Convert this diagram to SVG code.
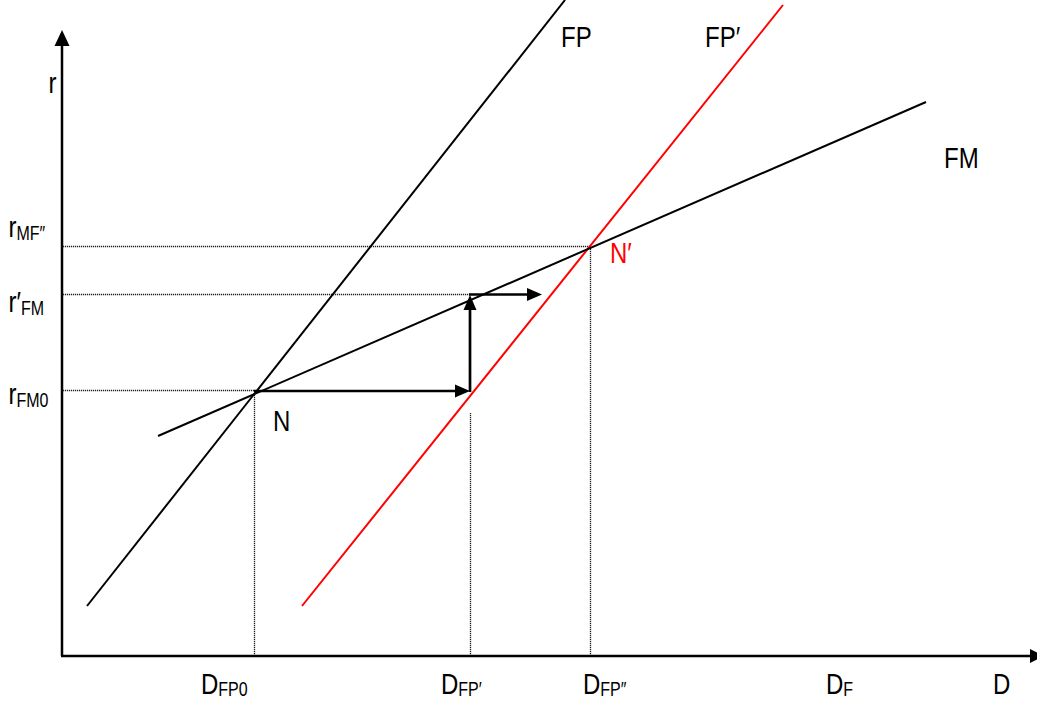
<svg xmlns="http://www.w3.org/2000/svg" width="1037" height="701" viewBox="0 0 1037 701">
<defs>
<style>
.t{font-family:"Liberation Sans",Arial,sans-serif;font-size:30px;fill:#000}
.s{font-size:20px}
.red{fill:#ff0000}
.ax{stroke:#000;stroke-width:2.5;fill:none}
.ln{stroke:#000;stroke-width:2;fill:none}
.rl{stroke:#ff0000;stroke-width:2;fill:none}
.dt{stroke:#222;stroke-width:1.3;stroke-dasharray:1.2,0.8;fill:none}
.th{stroke:#000;stroke-width:2.7;fill:none}
</style>
</defs>
<rect width="1037" height="701" fill="#fff"/>
<g id="axes">
<line class="ax" x1="62" y1="656" x2="62" y2="44"/>
<polygon points="62,30 54.5,46 69.5,46" fill="#000"/>
<line class="ax" x1="61" y1="656" x2="1032" y2="656"/>
<polygon points="1044,656 1030,649 1030,663" fill="#000"/>
</g>
<g id="guides">
<line class="dt" x1="63" y1="246.5" x2="590" y2="246.5"/>
<line class="dt" x1="63" y1="294.5" x2="470" y2="294.5"/>
<line class="dt" x1="63" y1="390.5" x2="254" y2="390.5"/>
<line class="dt" x1="254.5" y1="391" x2="254.5" y2="655"/>
<line class="dt" x1="470.5" y1="413" x2="470.5" y2="655"/>
<line class="dt" x1="590.5" y1="247" x2="590.5" y2="655"/>
</g>
<g id="curves">
<line id="FP" class="ln" x1="87" y1="606" x2="565" y2="0"/>
<line id="FPprime" class="rl" x1="302" y1="606" x2="783" y2="5"/>
<line id="FM" class="ln" x1="158" y1="436" x2="926" y2="102"/>
</g>
<g id="connectors">
<line class="th" x1="254" y1="391" x2="456" y2="391"/>
<polygon points="470,391 455,384.5 455,397.5" fill="#000"/>
<line class="th" x1="470" y1="392" x2="470" y2="309"/>
<polygon points="470,295 463.5,310 476.5,310" fill="#000"/>
<line class="th" x1="469" y1="294.5" x2="528" y2="294.5"/>
<polygon points="542,294.5 527,288 527,301" fill="#000"/>
</g>
<g id="labels">
<text class="t" transform="translate(48.5,93) scale(0.8,1)">r</text>
<text class="t" transform="translate(561,47) scale(0.8,1)">FP</text>
<text class="t" transform="translate(705,47) scale(0.8,1)">FP′</text>
<text class="t" transform="translate(944,168) scale(0.8,1)">FM</text>
<text class="t" transform="translate(8.5,237) scale(0.8,1)">r<tspan class="s" dy="3">MF″</tspan></text>
<text class="t" transform="translate(8.5,312) scale(0.8,1)">r′<tspan class="s" dy="3">FM</tspan></text>
<text class="t" transform="translate(8.5,404) scale(0.8,1)">r<tspan class="s" dy="3">FM0</tspan></text>
<text class="t" transform="translate(273,431) scale(0.8,1)">N</text>
<text class="t red" transform="translate(610,263) scale(0.8,1)">N′</text>
<text class="t" transform="translate(201,694) scale(0.8,1)">D<tspan class="s" dy="2">FP0</tspan></text>
<text class="t" transform="translate(441,694) scale(0.8,1)">D<tspan class="s" dy="2">FP′</tspan></text>
<text class="t" transform="translate(583,694) scale(0.8,1)">D<tspan class="s" dy="2">FP″</tspan></text>
<text class="t" transform="translate(826,694) scale(0.8,1)">D<tspan class="s" dy="2">F</tspan></text>
<text class="t" transform="translate(993,694) scale(0.8,1)">D</text>
</g>
</svg>
